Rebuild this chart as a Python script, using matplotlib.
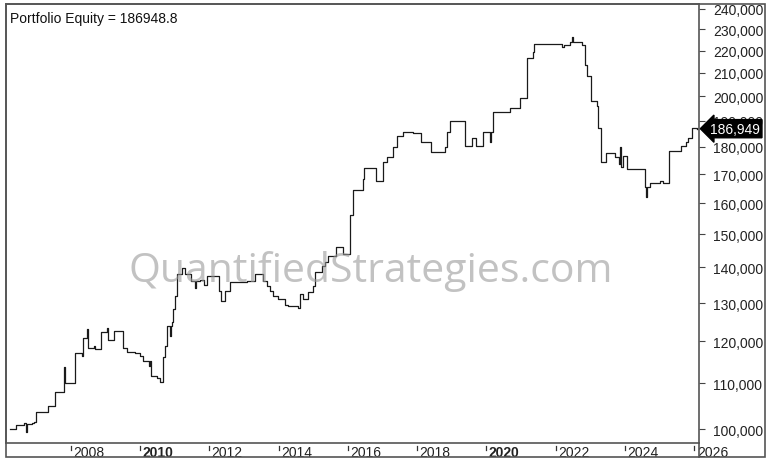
import matplotlib
matplotlib.use("Agg")
import matplotlib.pyplot as plt
import matplotlib.ticker as mticker
from matplotlib.patches import Rectangle
from matplotlib.transforms import blended_transform_factory

# ---- data (decimal year, portfolio equity) ----
dates = [
    2006.25, 2006.42, 2006.65, 2006.71, 2006.74, 2006.88, 2006.94, 2007.00, 2007.35, 2007.55,
    2007.81, 2007.85, 2008.12, 2008.32, 2008.36, 2008.46, 2008.49, 2008.67, 2008.70, 2008.87,
    2009.04, 2009.07, 2009.25, 2009.50, 2009.62, 2009.86, 2010.00, 2010.08, 2010.27, 2010.30,
    2010.33, 2010.48, 2010.58, 2010.66, 2010.72, 2010.77, 2010.87, 2010.90, 2010.93, 2010.96,
    2011.01, 2011.06, 2011.20, 2011.30, 2011.46, 2011.58, 2011.61, 2011.73, 2011.85, 2011.93,
    2012.29, 2012.33, 2012.45, 2012.60, 2013.08, 2013.32, 2013.56, 2013.66, 2013.75, 2013.83,
    2013.99, 2014.19, 2014.28, 2014.57, 2014.62, 2014.71, 2014.86, 2015.00, 2015.05, 2015.24,
    2015.34, 2015.43, 2015.66, 2015.85, 2016.06, 2016.16, 2016.43, 2016.47, 2016.81, 2017.00,
    2017.12, 2017.31, 2017.41, 2017.60, 2017.87, 2018.10, 2018.39, 2018.80, 2018.87, 2018.95,
    2019.38, 2019.57, 2019.70, 2019.89, 2020.11, 2020.14, 2020.18, 2020.68, 2020.97, 2021.18,
    2021.33, 2021.38, 2022.17, 2022.23, 2022.40, 2022.47, 2022.50, 2022.75, 2022.84, 2022.89,
    2023.01, 2023.18, 2023.23, 2023.30, 2023.45, 2023.71, 2023.83, 2023.86, 2023.88, 2023.94,
    2024.06, 2024.58, 2024.61, 2024.64, 2024.72, 2025.01, 2025.10, 2025.27, 2025.60, 2025.76,
    2025.82, 2025.92, 2026.07,
]
equity = [
    100000, 100840, 101260, 99380, 101050, 101260, 101530, 103670, 104970, 108010,
    113790, 110060, 117150, 116350, 120880, 123160, 118380, 118950, 118140, 122470,
    123500, 120450, 122650, 118310, 117470, 117150, 116350, 115290, 113950, 115290,
    111750, 111140, 110360, 116180, 118950, 123860, 121380, 123860, 125050, 128400,
    132010, 138110, 139770, 138110, 136210, 134150, 136210, 136480, 134990, 137450,
    133390, 130640, 133390, 135750, 136210, 138110, 136210, 134790, 133390, 132010,
    131100, 129470, 129120, 128590, 132480, 131100, 133110, 134790, 138610, 140520,
    141520, 143480, 146010, 144000, 156180, 164630, 168340, 172140, 167750, 174310,
    176130, 179850, 184230, 185540, 185280, 181720, 177980, 179850, 185540, 190100,
    180440, 183240, 180440, 185540, 181720, 185540, 193680, 195060, 199280, 216480,
    219200, 222890, 221500, 222550, 223800, 226140, 223800, 222550, 213470, 208760,
    198180, 195880, 187100, 174530, 177710, 176130, 173680, 179850, 172500, 176720,
    171890, 165450, 162040, 165450, 166940, 167750, 166940, 178570, 180440, 181940,
    183240, 187100, 186949,
]
last_equity = 186948.8
y_ticks = [100000, 110000, 120000, 130000, 140000, 150000, 160000, 170000,
           180000, 190000, 200000, 210000, 220000, 230000, 240000]
x_ticks = [2008, 2010, 2012, 2014, 2016, 2018, 2020, 2022, 2024, 2026]
bold_years = [2010, 2020]
title = "Portfolio Equity = 186948.8"
watermark = "QuantifiedStrategies.com"

# ---- figure ----
plt.rcParams['font.family'] = ['Liberation Sans', 'DejaVu Sans']
W, H = 768, 464
fig = plt.figure(figsize=(W / 100, H / 100), dpi=100)
fig.patch.set_facecolor('white')

L, R, T, B = 6, 699, 5, 444
ax = fig.add_axes([L / W, 1 - B / H, (R - L) / W, (B - T) / H])
ax.set_facecolor('white')

ax.step(dates, equity, where='post', color='#1a1a1a', lw=0.9, zorder=3)

ax.set_yscale('log')
ax.set_ylim(97126, 242400)
ax.set_xlim(2006.133, 2026.133)

ax.yaxis.set_major_locator(mticker.FixedLocator(y_ticks))
ax.yaxis.set_minor_locator(mticker.NullLocator())
ax.yaxis.set_major_formatter(mticker.FuncFormatter(lambda v, p: f"{int(round(v)):,}"))
ax.yaxis.tick_right()
ax.tick_params(axis='y', which='both', direction='out', length=4, width=0.8,
               color='#444444', labelsize=10, labelcolor='#222222', pad=6)

ax.xaxis.set_major_locator(mticker.NullLocator())
ax.xaxis.set_minor_locator(mticker.NullLocator())

for s in ax.spines.values():
    s.set_color('#555555')
    s.set_linewidth(1.2)

# x-axis labels with small tick marks
trans = blended_transform_factory(ax.transData, fig.transFigure)
for yr in x_ticks:
    ax.plot([yr, yr], [1 - 446.5 / H, 1 - 451 / H], transform=trans, color='#333333',
            lw=0.9, clip_on=False)
    ax.text(yr + 0.07, 1 - 453 / H, str(yr), transform=trans, ha='left', va='center',
            fontsize=10, color='#222222',
            fontweight='bold' if yr in bold_years else 'normal')

# outer frame: right axis area and bottom strip
fig.add_artist(Rectangle((L / W, 1 - 458 / H), (765 - L) / W, (458 - T) / H,
                         transform=fig.transFigure, fill=False, ec='#555555', lw=1.2))
fig.add_artist(plt.Line2D([R / W, R / W], [1 - 458 / H, 1 - B / H],
                          transform=fig.transFigure, color='#555555', lw=1.2))

# title
ax.text(0.006, 0.985, title, transform=ax.transAxes, ha='left', va='top',
        fontsize=10, color='#111111')

# last value tag (covers the 190,000 label partly, as in the original)
tagtrans = blended_transform_factory(ax.transAxes, ax.transData)
ax.text(1.0 + 11 / (R - L), last_equity, f"{int(round(last_equity)):,}", transform=tagtrans,
        ha='left', va='center', fontsize=10, color='white', clip_on=False, zorder=10,
        bbox=dict(boxstyle='larrow,pad=0.15', fc='black', ec='black'))

# watermark
fig.text(371 / W, 1 - 272 / H, watermark, ha='center', va='center', fontsize=29.5,
         color='#9a9a9a', alpha=0.6, family=['Open Sans', 'DejaVu Sans'])

fig.savefig('out.png', dpi=100, facecolor='white')
